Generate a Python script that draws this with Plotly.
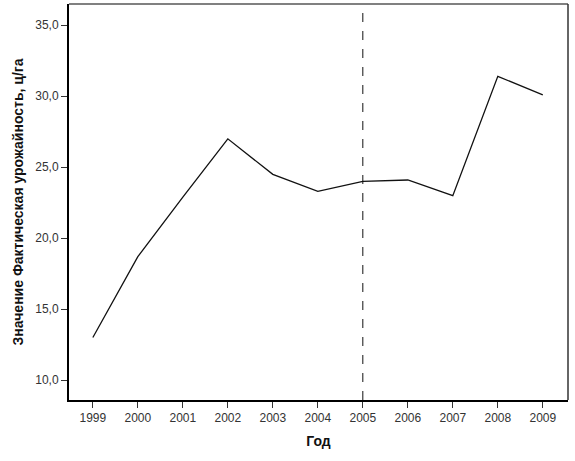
import plotly.graph_objects as go

# Yield by year
years = [1999, 2000, 2001, 2002, 2003, 2004, 2005, 2006, 2007, 2008, 2009]
yield_values = [13.0, 18.7, 22.9, 27.0, 24.5, 23.3, 24.0, 24.1, 23.0, 31.4, 30.1]
y_ticks = [10, 15, 20, 25, 30, 35]
marker_year = 2005

fig = go.Figure()
fig.add_trace(go.Scatter(
    x=years, y=yield_values, mode='lines',
    line=dict(color='#111111', width=1.3),
    showlegend=False, hoverinfo='skip'
))

fig.update_layout(
    width=575, height=461,
    margin=dict(l=69, r=7, t=4, b=61, autoexpand=False),
    paper_bgcolor='white', plot_bgcolor='white',
    separators=', ',
    font=dict(family='Liberation Sans, Arial, sans-serif', color='#333333', size=12),
    xaxis=dict(
        range=[1998.47, 2009.56], automargin=False,
        tickmode='array', tickvals=years, ticktext=[str(y) for y in years],
        ticks='outside', ticklen=6, tickcolor='#333333',
        showgrid=False, zeroline=False,
        showline=True, linecolor='black', linewidth=2,
        title=dict(text='<b>Год</b>', font=dict(size=14, color='#111111'), standoff=12),
    ),
    yaxis=dict(
        range=[8.6, 36.5], automargin=False,
        tickmode='array', tickvals=y_ticks, tickformat='.1f',
        ticks='outside', ticklen=6, tickcolor='#333333',
        showgrid=False, zeroline=False,
        showline=True, linecolor='black', linewidth=2,
        title=dict(text='<b>Значение Фактическая урожайность, ц/га</b>',
                   font=dict(size=14, color='#111111'), standoff=8),
    ),
)

fig.add_vline(x=marker_year, line_dash='dash', line_color='#111111', line_width=1)
fig.add_shape(type='line', xref='paper', yref='paper', x0=0, x1=1, y0=1, y1=1,
              line=dict(color='gray', width=2), layer='above')
fig.add_shape(type='line', xref='paper', yref='paper', x0=1, x1=1, y0=0, y1=1,
              line=dict(color='#333333', width=1.5), layer='above')

fig.write_html("out.html", config={'displayModeBar': False},
               post_script="document.body.style.margin='0';")
